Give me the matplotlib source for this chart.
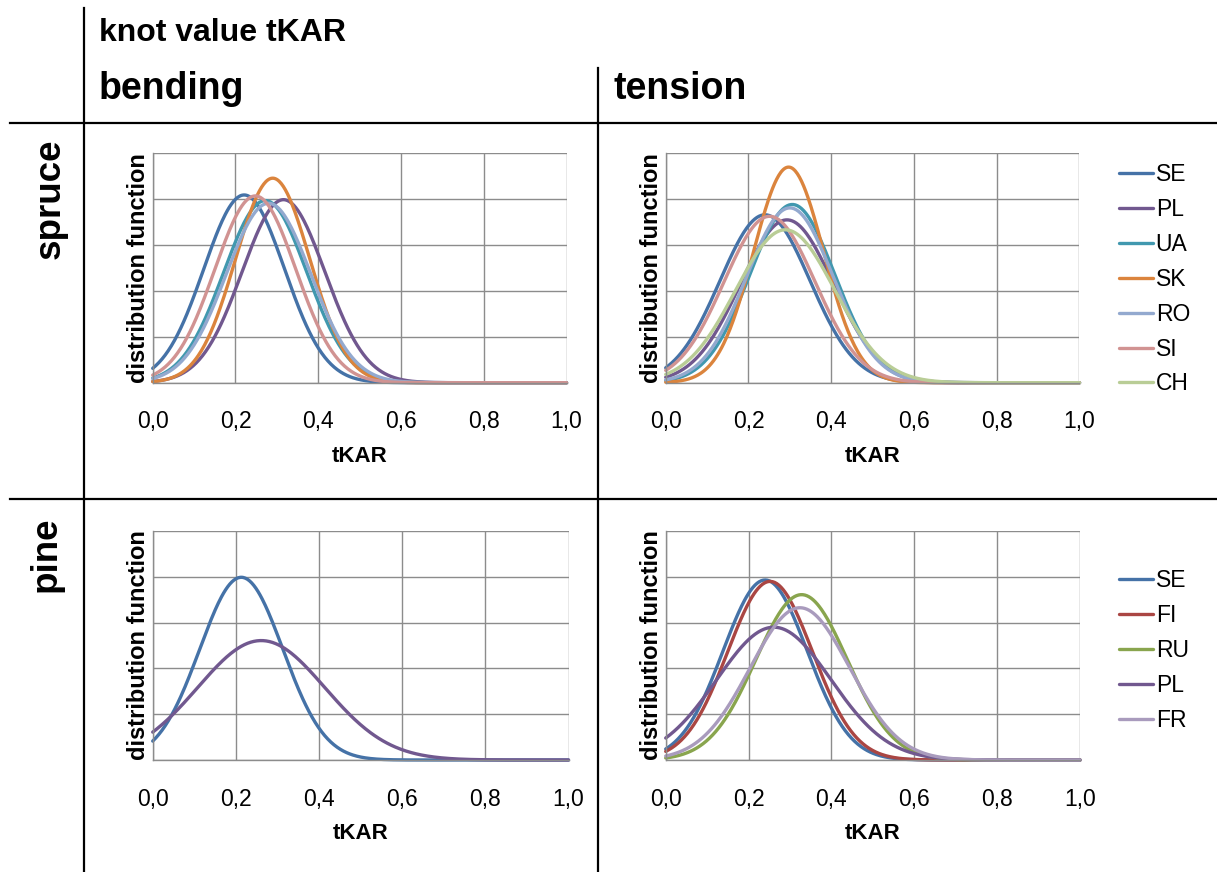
import matplotlib.pyplot as plt
import numpy as np
from matplotlib.lines import Line2D

plt.rcParams["font.family"] = ["Liberation Sans", "DejaVu Sans"]

# normal distributions of tKAR (mean, standard deviation)
spruce_bending_names = ["SE", "PL", "UA", "SK", "RO", "SI"]
spruce_bending_mean = [0.221, 0.316, 0.272, 0.290, 0.280, 0.248]
spruce_bending_sd = [0.0975, 0.100, 0.1005, 0.0895, 0.102, 0.098]

spruce_tension_names = ["SE", "PL", "UA", "SK", "RO", "SI", "CH"]
spruce_tension_mean = [0.240, 0.293, 0.306, 0.297, 0.300, 0.251, 0.289]
spruce_tension_sd = [0.109, 0.1124, 0.1027, 0.0849, 0.1047, 0.110, 0.1197]

pine_bending_names = ["SE", "PL"]
pine_bending_mean = [0.213, 0.261]
pine_bending_sd = [0.100, 0.153]

pine_tension_names = ["SE", "FI", "RU", "PL", "FR"]
pine_tension_mean = [0.240, 0.252, 0.328, 0.261, 0.324]
pine_tension_sd = [0.1015, 0.1023, 0.1105, 0.1376, 0.120]

colors = {
    "SE": "#4572A7", "PL": "#71588F", "UA": "#4198AF", "SK": "#DB843D",
    "RO": "#93A9CF", "SI": "#D19392", "CH": "#B9CD96", "FI": "#AA4643",
    "RU": "#89A54E", "FR": "#A99BBD",
}

W, H = 1217, 872
fig = plt.figure(figsize=(W / 100, H / 100), dpi=100)


def box(left, top, right, bottom):
    return [left / W, 1 - bottom / H, (right - left) / W, (bottom - top) / H]


x = np.linspace(0, 1, 400)
grid_color = "#8c8c8c"


def panel(rect, names, means, sds):
    ax = fig.add_axes(rect)
    for name, m, s in zip(names, means, sds):
        y = np.exp(-0.5 * ((x - m) / s) ** 2) / (s * np.sqrt(2 * np.pi))
        ax.plot(x, y, color=colors[name], lw=2.4, label=name,
                solid_capstyle="round", clip_on=False)
    ax.set_xlim(0, 1)
    ax.set_ylim(0, 5)
    ax.set_xticks(np.arange(0, 1.01, 0.2))
    ax.set_xticklabels([f"{t:.1f}".replace(".", ",") for t in np.arange(0, 1.01, 0.2)])
    ax.set_yticks(range(6))
    ax.set_yticklabels([])
    ax.tick_params(axis="x", length=0, labelsize=16.5, pad=20)
    ax.tick_params(axis="y", length=0, pad=0)
    ax.grid(True, color=grid_color, lw=1.0)
    ax.set_axisbelow(True)
    for side in ["top", "right"]:
        ax.spines[side].set_visible(False)
    for side in ["left", "bottom"]:
        ax.spines[side].set_color(grid_color)
        ax.spines[side].set_linewidth(1.0)
    ax.set_xlabel("tKAR", fontsize=16, fontweight="bold", labelpad=9)
    ax.set_ylabel("distribution function", fontsize=17, fontweight="bold", labelpad=2)
    return ax


panel(box(152.7, 153.3, 566.5, 382.7), spruce_bending_names, spruce_bending_mean, spruce_bending_sd)
ax_tr = panel(box(665.7, 153.3, 1079.5, 382.7), spruce_tension_names, spruce_tension_mean, spruce_tension_sd)
panel(box(152.7, 531.0, 568.5, 760.0), pine_bending_names, pine_bending_mean, pine_bending_sd)
ax_br = panel(box(665.7, 531.0, 1080.0, 760.0), pine_tension_names, pine_tension_mean, pine_tension_sd)

for ax, top in [(ax_tr, 163), (ax_br, 569)]:
    h, l = ax.get_legend_handles_labels()
    fig.legend(h, l, loc="upper left", bbox_to_anchor=(1119 / W, 1 - top / H),
               frameon=False, fontsize=16.5, handlelength=1.5, handletextpad=0.1,
               labelspacing=0.52, borderpad=0, borderaxespad=0)

# table frame
def fig_line(x0, y0, x1, y1):
    fig.add_artist(Line2D([x0 / W, x1 / W], [1 - y0 / H, 1 - y1 / H],
                          transform=fig.transFigure, color="black", lw=1.6))


fig_line(10, 123, W, 123)
fig_line(10, 499, W, 499)
fig_line(84, 8, 84, H)
fig_line(598, 68, 598, H)

fig.text(99 / W, 1 - 33 / H, "knot value tKAR", fontsize=23, fontweight="bold", va="center")
fig.text(99 / W, 1 - 89 / H, "bending", fontsize=27, fontweight="bold", va="center")
fig.text(613 / W, 1 - 89 / H, "tension", fontsize=27, fontweight="bold", va="center")
fig.text(50 / W, 1 - 199 / H, "spruce", fontsize=26.5, fontweight="bold", rotation=90,
         ha="center", va="center")
fig.text(46 / W, 1 - 554 / H, "pine", fontsize=26.5, fontweight="bold", rotation=90,
         ha="center", va="center")

fig.savefig("out.png", dpi=100)
